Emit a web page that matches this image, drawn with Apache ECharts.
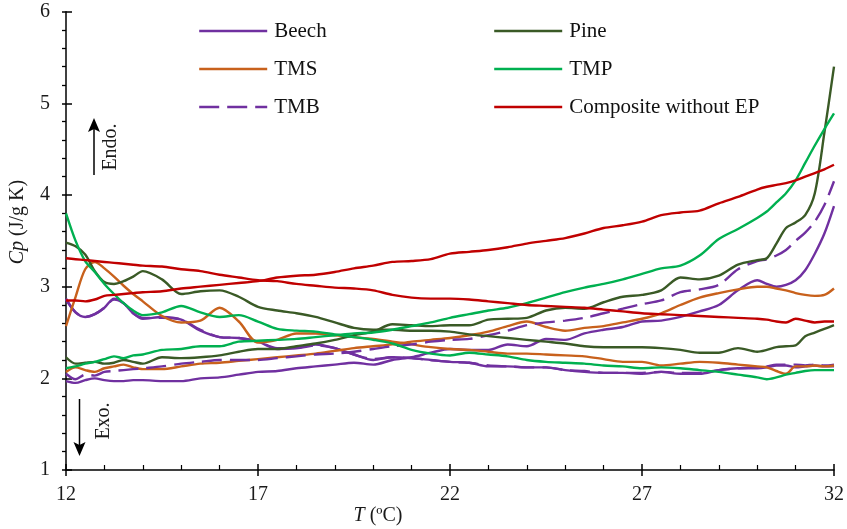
<!DOCTYPE html>
<html>
<head>
<meta charset="utf-8">
<script src="https://cdn.jsdelivr.net/npm/echarts@6/dist/echarts.min.js"></script>
<style>
html,body{margin:0;padding:0;background:#fff;}
#chart{width:847px;height:529px;}
</style>
</head>
<body>
<div id="chart"></div>
<script>
// Temperature grid (ºC)
const T = [12,12.25,12.5,12.75,13,13.25,13.5,13.75,14,
  14.5,15,15.5,16,16.5,17,17.5,18,18.5,19,19.5,20,20.5,21,21.5,22,22.5,23,23.5,24,24.5,25,25.5,26,26.5,27,27.5,28,28.5,29,29.5,30,
  30.25,30.5,30.75,31,31.25,31.5,31.75,32];

// Cp values (J/g K)
const beechCool = [2.87,2.72,2.67,2.70,2.77,2.87,2.82,2.71,2.65,
  2.67,2.64,2.52,2.45,2.44,2.40,2.32,2.33,2.37,2.33,2.26,2.20,2.23,2.22,2.20,2.18,2.17,2.13,2.13,2.12,2.12,2.09,2.07,2.06,2.06,2.05,2.07,2.05,2.05,2.09,2.11,2.11,
  2.12,2.14,2.14,2.12,2.13,2.14,2.13,2.13];
const beechHeat = [1.97,1.95,1.98,2.00,1.98,1.97,1.97,1.98,1.98,
  1.97,1.97,2.00,2.01,2.04,2.07,2.08,2.11,2.13,2.15,2.17,2.15,2.20,2.23,2.28,2.32,2.31,2.31,2.37,2.35,2.43,2.42,2.49,2.53,2.56,2.62,2.63,2.67,2.73,2.80,2.96,3.07,
  3.03,3.00,3.02,3.07,3.18,3.36,3.58,3.88];
const pineCool = [3.48,3.44,3.35,3.17,3.05,3.03,3.06,3.11,3.17,
  3.08,2.92,2.95,2.96,2.89,2.78,2.74,2.71,2.67,2.61,2.55,2.53,2.53,2.52,2.52,2.51,2.48,2.46,2.44,2.42,2.40,2.38,2.35,2.34,2.34,2.34,2.33,2.31,2.28,2.28,2.33,2.29,
  2.31,2.34,2.35,2.36,2.46,2.50,2.54,2.58];
const pineHeat = [2.23,2.16,2.17,2.18,2.16,2.17,2.20,2.18,2.16,
  2.23,2.22,2.23,2.25,2.29,2.32,2.32,2.35,2.38,2.42,2.47,2.51,2.59,2.58,2.57,2.58,2.58,2.64,2.65,2.66,2.74,2.77,2.76,2.83,2.89,2.91,2.96,3.10,3.08,3.12,3.24,3.29,
  3.31,3.47,3.64,3.70,3.78,4.02,4.68,5.40];
const tmsCool = [2.57,2.89,3.19,3.27,3.20,3.11,3.01,2.92,2.84,
  2.68,2.61,2.63,2.77,2.62,2.39,2.42,2.49,2.49,2.47,2.45,2.43,2.40,2.37,2.34,2.32,2.31,2.29,2.27,2.27,2.26,2.25,2.24,2.21,2.18,2.18,2.14,2.16,2.18,2.17,2.15,2.13,
  2.12,2.08,2.05,2.13,2.13,2.14,2.13,2.14];
const tmsHeat = [2.07,2.12,2.09,2.07,2.11,2.13,2.15,2.12,2.10,
  2.10,2.13,2.16,2.17,2.19,2.21,2.23,2.25,2.27,2.30,2.33,2.35,2.37,2.40,2.42,2.44,2.47,2.51,2.57,2.62,2.56,2.52,2.55,2.57,2.61,2.65,2.71,2.80,2.88,2.93,2.97,3.00,
  3.00,2.98,2.96,2.93,2.91,2.90,2.91,2.98];
const tmpCool = [3.80,3.50,3.28,3.16,3.03,2.92,2.82,2.74,2.69,
  2.72,2.79,2.72,2.67,2.69,2.62,2.54,2.52,2.51,2.48,2.45,2.42,2.38,2.31,2.27,2.25,2.28,2.26,2.24,2.20,2.18,2.17,2.16,2.14,2.13,2.11,2.12,2.11,2.09,2.07,2.04,2.01,
  1.99,2.01,2.04,2.06,2.08,2.09,2.09,2.09];
const tmpHeat = [2.11,2.13,2.16,2.18,2.21,2.24,2.22,2.25,2.26,
  2.31,2.32,2.35,2.35,2.40,2.41,2.42,2.43,2.45,2.47,2.49,2.50,2.53,2.57,2.61,2.66,2.70,2.74,2.77,2.82,2.88,2.94,2.99,3.03,3.08,3.14,3.20,3.23,3.34,3.52,3.63,3.75,
  3.82,3.92,4.02,4.16,4.35,4.54,4.72,4.89];
const tmbCool = [2.86,2.72,2.67,2.70,2.77,2.86,2.82,2.71,2.66,
  2.66,2.64,2.53,2.45,2.44,2.40,2.33,2.33,2.36,2.33,2.26,2.21,2.23,2.22,2.20,2.18,2.17,2.14,2.13,2.12,2.12,2.09,2.08,2.06,2.06,2.06,2.07,2.06,2.06,2.09,2.11,2.12,
  2.13,2.15,2.15,2.15,2.14,2.15,2.14,2.15];
const tmbHeat = [2.05,1.99,2.04,2.03,2.07,2.08,2.09,2.10,2.11,
  2.13,2.16,2.18,2.20,2.20,2.20,2.22,2.24,2.26,2.27,2.29,2.32,2.35,2.37,2.40,2.42,2.43,2.47,2.52,2.58,2.61,2.63,2.66,2.71,2.76,2.81,2.85,2.94,2.97,3.02,3.19,3.28,
  3.30,3.34,3.40,3.50,3.59,3.71,3.89,4.15];
const compCool = [3.31,3.30,3.29,3.28,3.27,3.26,3.25,3.24,3.23,
  3.22,3.19,3.17,3.13,3.10,3.07,3.06,3.03,3.01,2.99,2.98,2.96,2.91,2.88,2.87,2.87,2.86,2.84,2.82,2.80,2.79,2.78,2.77,2.75,2.73,2.71,2.70,2.69,2.68,2.67,2.66,2.65,
  2.64,2.62,2.61,2.65,2.63,2.61,2.62,2.62];
const compHeat = [2.85,2.85,2.84,2.86,2.90,2.91,2.92,2.93,2.94,
  2.95,2.98,3.00,3.02,3.04,3.06,3.10,3.12,3.13,3.16,3.20,3.23,3.27,3.28,3.30,3.36,3.38,3.40,3.43,3.47,3.50,3.53,3.58,3.64,3.67,3.71,3.78,3.81,3.83,3.91,3.98,4.06,
  4.09,4.11,4.13,4.16,4.20,4.24,4.28,4.33];

const legendLeft = ['Beech','TMS','TMB'];
const legendRight = ['Pine','TMP','Composite without EP'];

const FONT = 'Liberation Serif';
const C = {
  purple:'#7030A0', pine:'#3A5A26', orange:'#C8611C', green:'#00B050', red:'#C00000'
};
const pairs = arr => T.map((t,i)=>[t, arr[i]]);
function mk(name, arr, color, dashed){
  return {
    name, type:'line', data:pairs(arr), showSymbol:false, symbol:'none',
    smooth:0.3, xAxisIndex:0, yAxisIndex:0,
    lineStyle:{color, width:2.4, type: dashed ? [20,8] : 'solid'},
    itemStyle:{color}, emphasis:{disabled:true}
  };
}

const chart = echarts.init(document.getElementById('chart'), null, {renderer:'canvas'});
const tickColor = '#000';
const legendBase = {
  orient:'vertical', top:19, padding:0, itemWidth:68, itemHeight:24, itemGap:14,
  selectedMode:false,
  itemStyle:{opacity:0, borderWidth:0},
  lineStyle:{width:2.4, opacity:1},
  textStyle:{fontFamily:FONT, fontSize:21, color:'#111', lineHeight:24, padding:[0,0,0,2]}
};
chart.setOption({
  animation:false,
  backgroundColor:'#fff',
  grid:{left:66, right:12, top:11.7, bottom:59, containLabel:false},
  legend:[
    Object.assign({}, legendBase, {left:198, data:legendLeft}),
    Object.assign({}, legendBase, {left:493, data:legendRight})
  ],
  xAxis:[
    {type:'value', min:12, max:32, interval:5, position:'bottom',
     axisLine:{onZero:false, lineStyle:{color:tickColor, width:1.5}},
     axisTick:{inside:true, length:6, lineStyle:{color:tickColor, width:1.5}},
     minorTick:{show:true, splitNumber:5, length:5, lineStyle:{color:tickColor, width:1.2}},
     splitLine:{show:false}, minorSplitLine:{show:false},
     axisLabel:{fontFamily:FONT, fontSize:20, color:'#1a1a1a', margin:15}},
    {type:'value', min:12, max:32, interval:5, position:'bottom',
     axisLine:{show:false, onZero:false},
     axisTick:{inside:false, length:6, lineStyle:{color:tickColor, width:1.5}},
     axisLabel:{show:false}, splitLine:{show:false}}
  ],
  yAxis:[
    {type:'value', min:1, max:6, interval:1, position:'left',
     axisLine:{show:true, onZero:false, lineStyle:{color:tickColor, width:1.5}},
     axisTick:{show:true, inside:true, length:6, lineStyle:{color:tickColor, width:1.5}},
     splitLine:{show:false},
     axisLabel:{fontFamily:FONT, fontSize:20, color:'#1a1a1a', margin:16}},
    {type:'value', min:1, max:6, interval:1, position:'left',
     axisLine:{show:false, onZero:false},
     axisTick:{show:true, inside:false, length:4, lineStyle:{color:tickColor, width:1.5}},
     minorTick:{show:true, splitNumber:5, length:4, lineStyle:{color:tickColor, width:1.3}},
     axisLabel:{show:false}, splitLine:{show:false}, minorSplitLine:{show:false}}
  ],
  series:[
    mk('TMB', tmbCool, C.purple, true),
    mk('Beech', beechCool, C.purple),
    mk('Beech', beechHeat, C.purple),
    mk('TMS', tmsCool, C.orange),
    mk('TMS', tmsHeat, C.orange),
    mk('TMB', tmbHeat, C.purple, true),
    mk('Pine', pineCool, C.pine),
    mk('Pine', pineHeat, C.pine),
    mk('TMP', tmpCool, C.green),
    mk('TMP', tmpHeat, C.green),
    mk('Composite without EP', compCool, C.red),
    mk('Composite without EP', compHeat, C.red)
  ],
  graphic:[
    {type:'text', x:18, y:222, rotation:Math.PI/2,
     style:{text:'{i|Cp} (J/g K)', fontFamily:FONT, fontSize:20, fill:'#1a1a1a',
            align:'center', verticalAlign:'middle',
            rich:{i:{fontFamily:FONT, fontSize:20, fontStyle:'italic', fill:'#1a1a1a'}}}},
    {type:'text', x:378, y:516,
     style:{text:'{i|T} (ºC)', fontFamily:FONT, fontSize:20, fill:'#1a1a1a',
            align:'center', verticalAlign:'middle',
            rich:{i:{fontFamily:FONT, fontSize:20, fontStyle:'italic', fill:'#1a1a1a'}}}},
    {type:'line', shape:{x1:94, y1:175, x2:94, y2:128}, style:{stroke:'#000', lineWidth:1.5}},
    {type:'polygon', shape:{points:[[94,118],[88,132],[94,129],[100,132]]}, style:{fill:'#000'}},
    {type:'text', x:111, y:147, rotation:Math.PI/2,
     style:{text:'Endo.', fontFamily:FONT, fontSize:20, fill:'#1a1a1a', align:'center', verticalAlign:'middle'}},
    {type:'line', shape:{x1:79.5, y1:399, x2:79.5, y2:446}, style:{stroke:'#000', lineWidth:1.5}},
    {type:'polygon', shape:{points:[[79.5,456],[73.5,442],[79.5,445],[85.5,442]]}, style:{fill:'#000'}},
    {type:'text', x:104, y:421, rotation:Math.PI/2,
     style:{text:'Exo.', fontFamily:FONT, fontSize:20, fill:'#1a1a1a', align:'center', verticalAlign:'middle'}}
  ]
});
</script>
</body>
</html>
